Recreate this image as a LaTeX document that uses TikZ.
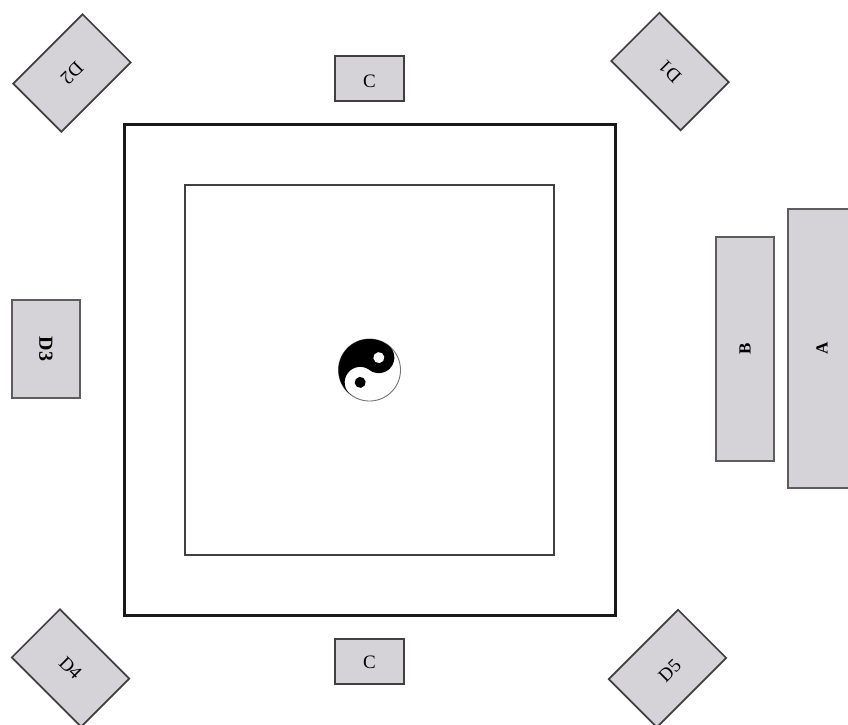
\documentclass[tikz,border=0pt]{standalone}
\usepackage{fontspec}
\setmainfont{Liberation Serif}
\definecolor{panel}{HTML}{D5D3D7}
\definecolor{edge}{HTML}{404040}
\tikzset{
  box/.style={draw=edge,fill=panel,line width=1.7pt,inner sep=0pt,outer sep=0pt,font=\fontsize{19}{19}\selectfont},
  tile/.style={box,minimum width=98pt,minimum height=68pt},
  plain/.style={box,line width=2.2pt,draw=edge!85,font=\fontsize{17}{17}\selectfont\bfseries}
}
\begin{document}
\begin{tikzpicture}[x=1pt,y=-1pt]
\path[use as bounding box,fill=white] (0,0) rectangle (848,724);
\clip (0,0) rectangle (848,724);
% courts
\node[draw=black!90,line width=3pt,minimum size=491pt,inner sep=0pt] (outer) at (369.5,369.5) {};
\node[draw=black!75,line width=1.3pt,minimum width=369pt,minimum height=370pt,inner sep=0pt] (inner) at (369.5,370) {};
% top / bottom
\node[box,minimum width=69pt,minimum height=45pt] (ctop) at (369.5,78.5) {\rule{0pt}{18pt}C};
\node[box,minimum width=69pt,minimum height=45pt] (cbot) at (369.5,661.5) {\rule{0pt}{15pt}C};
% side panels
\node[plain,rotate=90,minimum width=224pt,minimum height=58pt] (b) at (745,349) {B};
\node[plain,rotate=90,minimum width=279pt,minimum height=68pt] (a) at (822,348.5) {A};
\node[plain,rotate=-90,minimum width=98pt,minimum height=68pt,font=\fontsize{20}{20}\selectfont\bfseries] (d3) at (46,349) {D3};
% corner panels
\node[tile,rotate=135] (d1) at (670,71.5) {D1};
\node[tile,rotate=225] (d2) at (72,73) {D2};
\node[tile,rotate=-45] (d4) at (70.5,668) {D4};
\node[tile,rotate=45] (d5) at (667.5,668.5) {\rule{0pt}{19pt}D5};
% yin-yang
\begin{scope}[shift={(369.5,370)},x=1pt,y=1pt,rotate=-37]
  \draw[black!55,fill=white,line width=0.9pt] (0,0) circle[radius=31pt];
  \fill[black] (0,31) arc[start angle=90,end angle=270,radius=31pt]
    arc[start angle=-90,end angle=-270,radius=15.5pt]
    arc[start angle=-90,end angle=90,radius=15.5pt] -- cycle;
  \fill[white] (0,15.5) circle[radius=5.5pt];
  \fill[black] (0,-15.5) circle[radius=5.5pt];
\end{scope}
\end{tikzpicture}
\end{document}
